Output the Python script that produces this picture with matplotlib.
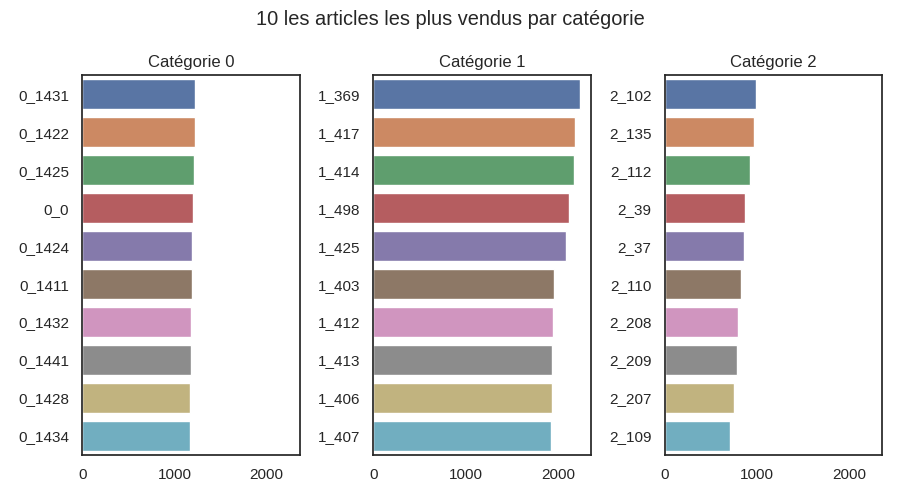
import matplotlib
matplotlib.use("Agg")
import matplotlib.pyplot as plt
import pandas as pd
import seaborn as sns

# top 10 products per category
cat0_ids = ["0_1431", "0_1422", "0_1425", "0_0", "0_1424",
            "0_1411", "0_1432", "0_1441", "0_1428", "0_1434"]
cat0_sales = [1225, 1224, 1217, 1196, 1195, 1185, 1184, 1174, 1173, 1172]

cat1_ids = ["1_369", "1_417", "1_414", "1_498", "1_425",
            "1_403", "1_412", "1_413", "1_406", "1_407"]
cat1_sales = [2245, 2187, 2176, 2122, 2088, 1958, 1946, 1936, 1935, 1924]

cat2_ids = ["2_102", "2_135", "2_112", "2_39", "2_37",
            "2_110", "2_208", "2_209", "2_207", "2_109"]
cat2_sales = [990, 968, 925, 870, 860, 826, 793, 783, 750, 707]

categories = [0, 1, 2]
ids = [cat0_ids, cat1_ids, cat2_ids]
sales = [cat0_sales, cat1_sales, cat2_sales]

sns.set_theme(style="white")
plt.rcParams["font.family"] = ["Liberation Sans", "DejaVu Sans"]

fig, axes = plt.subplots(1, 3, figsize=(9, 5), dpi=100, sharex=True)
for ax, cat, names, vals in zip(axes, categories, ids, sales):
    df = pd.DataFrame({"id_prod": names, "ventes": vals})
    sns.barplot(data=df, x="ventes", y="id_prod", hue="id_prod",
                palette="deep", legend=False, ax=ax)
    ax.set_title(f"Catégorie {cat}")
    ax.set_xlabel("")
    ax.set_ylabel("")

fig.suptitle("10 les articles les plus vendus par catégorie")
fig.tight_layout()
fig.savefig("out.png")
